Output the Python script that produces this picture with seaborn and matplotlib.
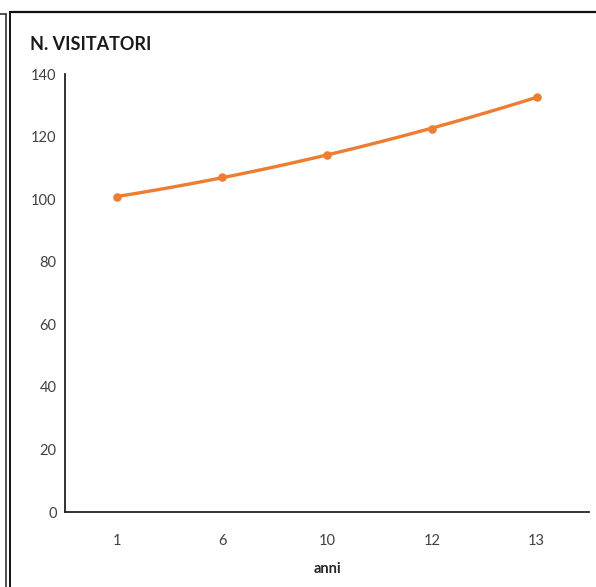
import matplotlib
matplotlib.use("Agg")
import matplotlib.pyplot as plt
import seaborn as sns
import numpy as np
from matplotlib.lines import Line2D

# dati
anni = ["1", "6", "10", "12", "13"]
visitatori = [100.7, 107.2, 114.1, 122.4, 132.7]
y_ticks = [0, 20, 40, 60, 80, 100, 120, 140]

sns.set_style("white")
plt.rcParams["font.family"] = ["Lato", "DejaVu Sans"]

fig = plt.figure(figsize=(5.96, 5.87), dpi=100)
ax = fig.add_axes([65 / 596, 75 / 587, 524 / 596, 438 / 587])

pos = np.arange(len(anni))
arancio = "#ED7D31"

# linea di tendenza (polinomiale) + punti
sns.regplot(x=pos, y=visitatori, order=2, ci=None, truncate=True,
            scatter_kws={"s": 38, "color": arancio, "alpha": 1,
                         "linewidths": 0, "zorder": 3},
            line_kws={"color": arancio, "lw": 2.4}, ax=ax)

ax.set_xlim(-0.5, len(anni) - 0.5)
ax.set_ylim(0, 140)
ax.set_xticks(pos)
ax.set_xticklabels(anni)
ax.set_yticks(y_ticks)
ax.tick_params(axis="x", length=0, pad=16, labelsize=10.5, labelcolor="#404040")
ax.tick_params(axis="y", length=0, pad=6, labelsize=10.5, labelcolor="#404040")

for s in ["top", "right"]:
    ax.spines[s].set_visible(False)
ax.spines["left"].set_color("#222222")
ax.spines["bottom"].set_color("#222222")
ax.spines["left"].set_linewidth(1.3)
ax.spines["bottom"].set_linewidth(1.3)

ax.set_xlabel("anni", fontsize=10.5, fontweight="bold", color="#262626", labelpad=10)
ax.set_ylabel("")

fig.text(30 / 596, 1 - 44 / 587, "N. VISITATORI", fontsize=13, fontweight="bold",
         color="#1a1a1a", va="center", ha="left")

# bordi della cornice
W, H = 596, 587
fig.add_artist(Line2D([0, 6 / W], [1 - 14 / H, 1 - 14 / H], color="#333333", lw=1.2))
fig.add_artist(Line2D([6 / W, 6 / W], [1 - 14 / H, 0], color="#333333", lw=1.2))
fig.add_artist(Line2D([10 / W, 1], [1 - 12 / H, 1 - 12 / H], color="#111111", lw=1.6))
fig.add_artist(Line2D([10 / W, 10 / W], [1 - 12 / H, 0], color="#111111", lw=1.4))

fig.savefig("out.png", dpi=100)
